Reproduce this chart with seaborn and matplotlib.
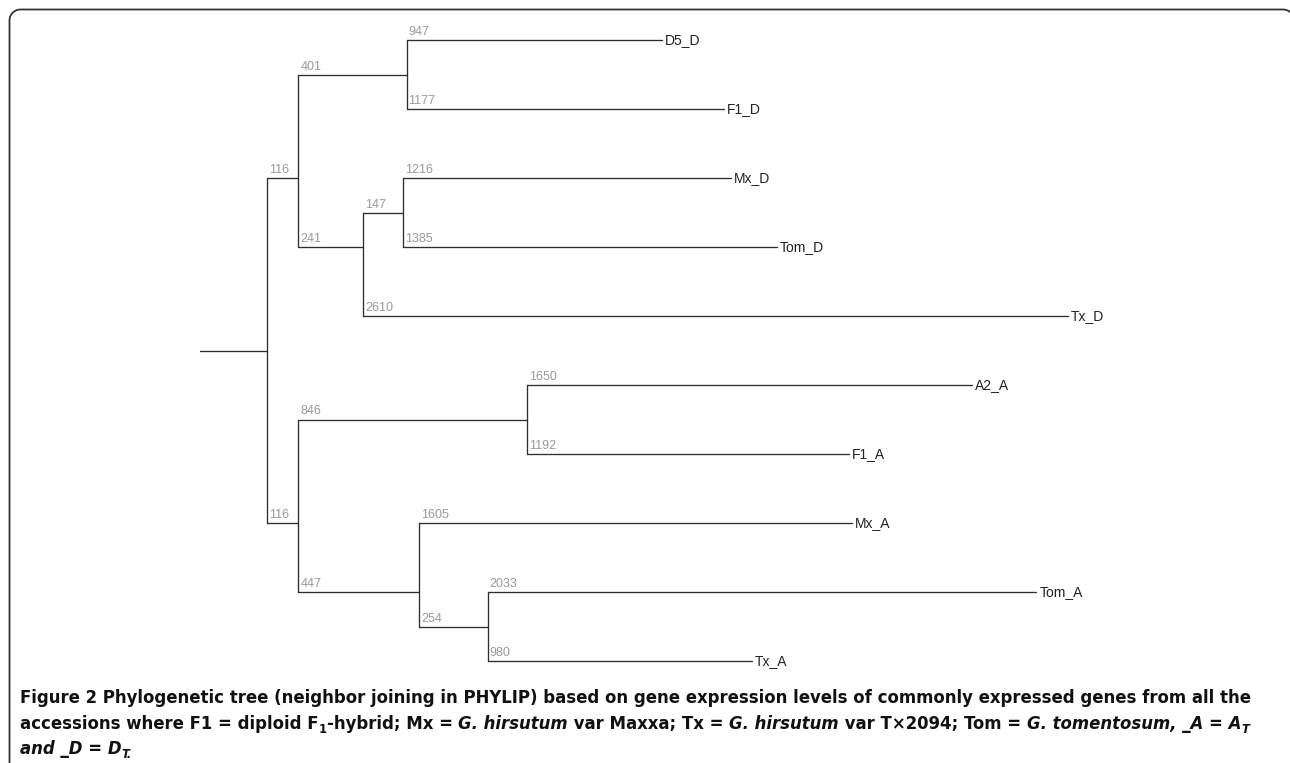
import numpy as np
import pandas as pd
import matplotlib
matplotlib.use("Agg")
import matplotlib.pyplot as plt
import seaborn as sns
from matplotlib.transforms import offset_copy, IdentityTransform
from matplotlib.lines import Line2D

# ---------------- data ----------------
node_names = ['root', 'D_clade', 'D5F1', 'MxTomTx_D', 'MxTom_D',
              'D5_D', 'F1_D', 'Mx_D', 'Tom_D', 'Tx_D',
              'A_clade', 'A2F1', 'MxTomTx_A', 'TomTx_A',
              'A2_A', 'F1_A', 'Mx_A', 'Tom_A', 'Tx_A']
parents = [None, 'root', 'D_clade', 'D_clade', 'MxTomTx_D',
           'D5F1', 'D5F1', 'MxTom_D', 'MxTom_D', 'MxTomTx_D',
           'root', 'A_clade', 'A_clade', 'MxTomTx_A',
           'A2F1', 'A2F1', 'MxTomTx_A', 'TomTx_A', 'TomTx_A']
branch_lengths = [248, 116, 401, 241, 147,
                  947, 1177, 1216, 1385, 2610,
                  116, 846, 447, 254,
                  1650, 1192, 1605, 2033, 980]
leaf_order = ['D5_D', 'F1_D', 'Mx_D', 'Tom_D', 'Tx_D',
              'A2_A', 'F1_A', 'Mx_A', 'Tom_A', 'Tx_A']

# ---------------- layout ----------------
W, H, DPI = 1290, 763, 100
sns.set_theme(style="white")
plt.rcParams['font.family'] = ['Liberation Sans', 'DejaVu Sans']

par = dict(zip(node_names, parents))
blen = dict(zip(node_names, branch_lengths))
children = {n: [c for c in node_names if par[c] == n] for n in node_names}

xpos = {}
def set_x(n, base):
    xpos[n] = base + blen[n]
    for c in children[n]:
        set_x(c, xpos[n])
set_x('root', 0)

def leaves_of(n):
    if not children[n]:
        return [n]
    out = []
    for c in children[n]:
        out += leaves_of(c)
    return out

ypos = {n: float(np.mean([leaf_order.index(l) for l in leaves_of(n)])) for n in node_names}

rows = []
seg = 0
rows += [dict(x=0, y=ypos['root'], seg=seg), dict(x=xpos['root'], y=ypos['root'], seg=seg)]
seg += 1
for n in node_names:
    p = par[n]
    if p is None:
        continue
    rows += [dict(x=xpos[p], y=ypos[n], seg=seg), dict(x=xpos[n], y=ypos[n], seg=seg)]
    seg += 1
for n in node_names:
    ch = children[n]
    if ch:
        ys = [ypos[c] for c in ch]
        rows += [dict(x=xpos[n], y=min(ys), seg=seg), dict(x=xpos[n], y=max(ys), seg=seg)]
        seg += 1
df = pd.DataFrame(rows)

fig = plt.figure(figsize=(W / DPI, H / DPI), dpi=DPI)
fig.patch.set_facecolor('white')
ax = fig.add_axes([0, 0, 1, 1])
sns.lineplot(data=df, x='x', y='y', units='seg', estimator=None, sort=False,
             color='#2e2e2e', linewidth=0.95, ax=ax, legend=False)

scale = 0.27            # px per unit
x0_px = 200
ax.set_xlim(-x0_px / scale, (W - x0_px) / scale)
slot0, slot_h = 40, 69
ax.set_ylim((H - slot0) / slot_h, -slot0 / slot_h)
ax.set_axis_off()

# branch length labels
lab_tr = offset_copy(ax.transData, fig=fig, x=2, y=2, units='dots')
for n in node_names:
    p = par[n]
    if p is None:
        continue
    ax.text(xpos[p], ypos[n], str(blen[n]), transform=lab_tr, ha='left', va='bottom',
            fontsize=9, color='#9a9a9a')

# tip labels
tip_tr = offset_copy(ax.transData, fig=fig, x=3, y=0, units='dots')
for l in leaf_order:
    ax.text(xpos[l], ypos[l], l, transform=tip_tr, ha='left', va='center',
            fontsize=10, color='#222222')

# frame: rounded top corners, right and bottom run off the picture
r = 11
left, top, right = 9.5, 9.5, 1294
t = np.linspace(0, np.pi / 2, 20)
fx = np.concatenate([[left], left + r - r * np.cos(t), right - r + r * np.sin(t), [right]])
fy = np.concatenate([[H + 20], top + r - r * np.sin(t), top + r - r * np.cos(t), [H + 20]])
fig.lines.append(Line2D(fx, H - fy, transform=IdentityTransform(), color='#333333',
                        linewidth=1.3, solid_capstyle='butt'))

# caption
cap_fs = 13.2
cap_kw = dict(family=['DejaVu Sans'], stretch='condensed')
renderer = fig.canvas.get_renderer()

def draw_line(segments, x_px, base_px):
    x = x_px
    for txt, style, sub in segments:
        fs = cap_fs * (0.7 if sub else 1.0)
        y = base_px + (4 if sub else 0)
        tt = fig.text(x / W, 1 - y / H, txt, fontsize=fs, fontweight='bold',
                      fontstyle=style, color='#111111',
                      ha='left', va='baseline', **cap_kw)
        bb = tt.get_window_extent(renderer)
        x += bb.width

N, I = 'normal', 'italic'
line1 = [("Figure 2 Phylogenetic tree (neighbor joining in PHYLIP) based on gene expression levels of commonly expressed genes from all the", N, False)]
line2 = [("accessions where F1 = diploid F", N, False), ("1", N, True),
         ("-hybrid; Mx = ", N, False), ("G. hirsutum", I, False),
         (" var Maxxa; Tx = ", N, False), ("G. hirsutum", I, False),
         (" var T\u00d72094; Tom = ", N, False), ("G. tomentosum, _A = A", I, False),
         ("T", I, True)]
line3 = [("and _D = D", I, False), ("T.", I, True)]
draw_line(line1, 20, 703)
draw_line(line2, 20, 729)
draw_line(line3, 20, 754)

fig.savefig('out.png', dpi=DPI, facecolor='white')
